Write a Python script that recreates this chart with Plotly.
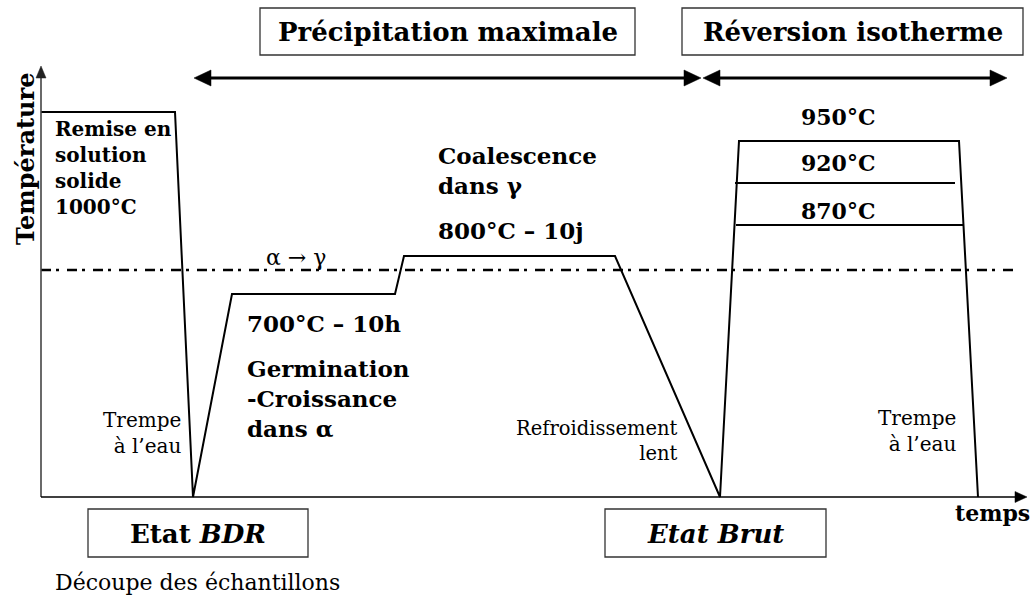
import plotly.graph_objects as go

# ---------------- schematic data (time units, schematic temperature level) ----------------
profile_time = [0, 134, 152, 191, 354, 363, 574, 679, 698, 918, 937]
profile_temp = [385, 385, 0, 203, 203, 241, 241, 0, 356, 356, 0]

reversion_labels = ["950°C", "920°C", "870°C"]
reversion_levels = [356, 314, 272]
reversion_start = [698, 694, 695]
reversion_end = [918, 914, 922]

alpha_gamma_level = 227
alpha_gamma_end = 976

phase_names = ["Précipitation maximale", "Réversion isotherme"]
phase_start = [153, 662]
phase_end = [660, 966]
phase_level = 419

time_axis_end = 986
temp_axis_end = 431

state_names = ["Etat <i>BDR</i>", "<i>Etat Brut</i>"]
state_box_start = [47, 564]
state_box_end = [267, 785]

FONT = "DejaVu Serif"

fig = go.Figure()


def add_line(x, y, width=2, color="black", dash=None):
    fig.add_trace(go.Scatter(x=x, y=y, mode="lines",
                             line=dict(color=color, width=width, dash=dash),
                             hoverinfo="skip", showlegend=False))


def add_head(tx, ty, dx, dy, length, half, color="black"):
    bx, by = tx - dx * length, ty - dy * length
    px, py = -dy, dx
    fig.add_trace(go.Scatter(
        x=[tx, bx + px * half, bx - px * half, tx],
        y=[ty, by + py * half, by - py * half, ty],
        mode="lines", fill="toself", fillcolor=color,
        line=dict(color=color, width=0.5), hoverinfo="skip", showlegend=False))


# thermal profile
add_line(profile_time, profile_temp, width=2)
for lvl, s, e in zip(reversion_levels[1:], reversion_start[1:], reversion_end[1:]):
    add_line([s, e], [lvl, lvl], width=2)

# alpha -> gamma transformation line
add_line([0, alpha_gamma_end], [alpha_gamma_level, alpha_gamma_level], width=2.7,
         dash="10px,5px,3px,8px")

# axes with arrows
add_line([0, 0], [0, temp_axis_end - 10], width=1.6, color="#444444")
add_head(0, temp_axis_end, 0, 1, 12, 5, color="#222222")
add_line([0, time_axis_end - 10], [0, 0], width=1.6, color="black")
add_head(time_axis_end, 0, 1, 0, 12, 5.5)

# phase double arrows
for s, e in zip(phase_start, phase_end):
    add_line([s + 15, e - 15], [phase_level, phase_level], width=3)
    add_head(s, phase_level, -1, 0, 17, 8)
    add_head(e, phase_level, 1, 0, 17, 8)

shapes = []
annotations = []

# top phase boxes
top_boxes = [(219, 594), (641, 982)]
for (x0, x1), name in zip(top_boxes, phase_names):
    shapes.append(dict(type="rect", xref="x", yref="y", x0=x0, x1=x1, y0=442, y1=489,
                       line=dict(color="#333333", width=1.3), fillcolor="white", layer="below"))
    annotations.append(dict(x=(x0 + x1) / 2, y=465.5, text=f"<b>{name}</b>",
                            font=dict(family=FONT, size=26, color="black"),
                            showarrow=False, xanchor="center", yanchor="middle"))

# state boxes
for x0, x1, name in zip(state_box_start, state_box_end, state_names):
    shapes.append(dict(type="rect", xref="x", yref="y", x0=x0, x1=x1, y0=-60, y1=-12,
                       line=dict(color="#333333", width=1.3), fillcolor="white", layer="below"))
    annotations.append(dict(x=(x0 + x1) / 2, y=-37, text=f"<b>{name}</b>",
                            font=dict(family=FONT, size=26, color="black"),
                            showarrow=False, xanchor="center", yanchor="middle"))


def note(x, y, text, size, xanchor="left", align="left", angle=0, bold=True):
    t = f"<b>{text}</b>" if bold else text
    annotations.append(dict(x=x, y=y, text=t, textangle=angle,
                            font=dict(family=FONT, size=size, color="black"),
                            showarrow=False, xanchor=xanchor, yanchor="middle", align=align))


note(12, 329, "Remise en<br>solution<br>solide<br>1000°C", 20)
note(395, 327, "Coalescence<br>dans γ", 23)
note(395, 267, "800°C – 10j", 23)
note(204, 174, "700°C – 10h", 23)
note(204, 99, "Germination<br>-Croissance<br>dans α", 23)
note(255, 240, "α → γ", 22, xanchor="center", bold=False)
for lbl, y in zip(reversion_labels, [380, 334, 286]):
    note(797, y, lbl, 22, xanchor="center")
note(142, 64, "Trempe<br>à l’eau", 20, xanchor="right", align="right", bold=False)
note(639, 56, "Refroidissement<br>lent", 19.5, xanchor="right", align="right", bold=False)
note(917, 66, "Trempe<br>à l’eau", 20, xanchor="right", align="right", bold=False)
note(951, -16, "temps", 22, xanchor="center")
note(-16, 338, "Température", 24, xanchor="center", angle=-90)
note(12, -85, "Découpe des échantillons", 22, bold=False)

fig.update_layout(
    width=1032, height=597,
    margin=dict(l=0, r=0, t=0, b=0),
    paper_bgcolor="white", plot_bgcolor="white",
    xaxis=dict(range=[-41, 991], visible=False, fixedrange=True),
    yaxis=dict(range=[-100, 497], visible=False, fixedrange=True),
    shapes=shapes, annotations=annotations, showlegend=False,
)

fig.write_html(
    "out.html",
    config={"displayModeBar": False},
    post_script="document.body.style.margin='0';document.body.style.padding='0';"
                "document.body.style.overflow='hidden';",
)
